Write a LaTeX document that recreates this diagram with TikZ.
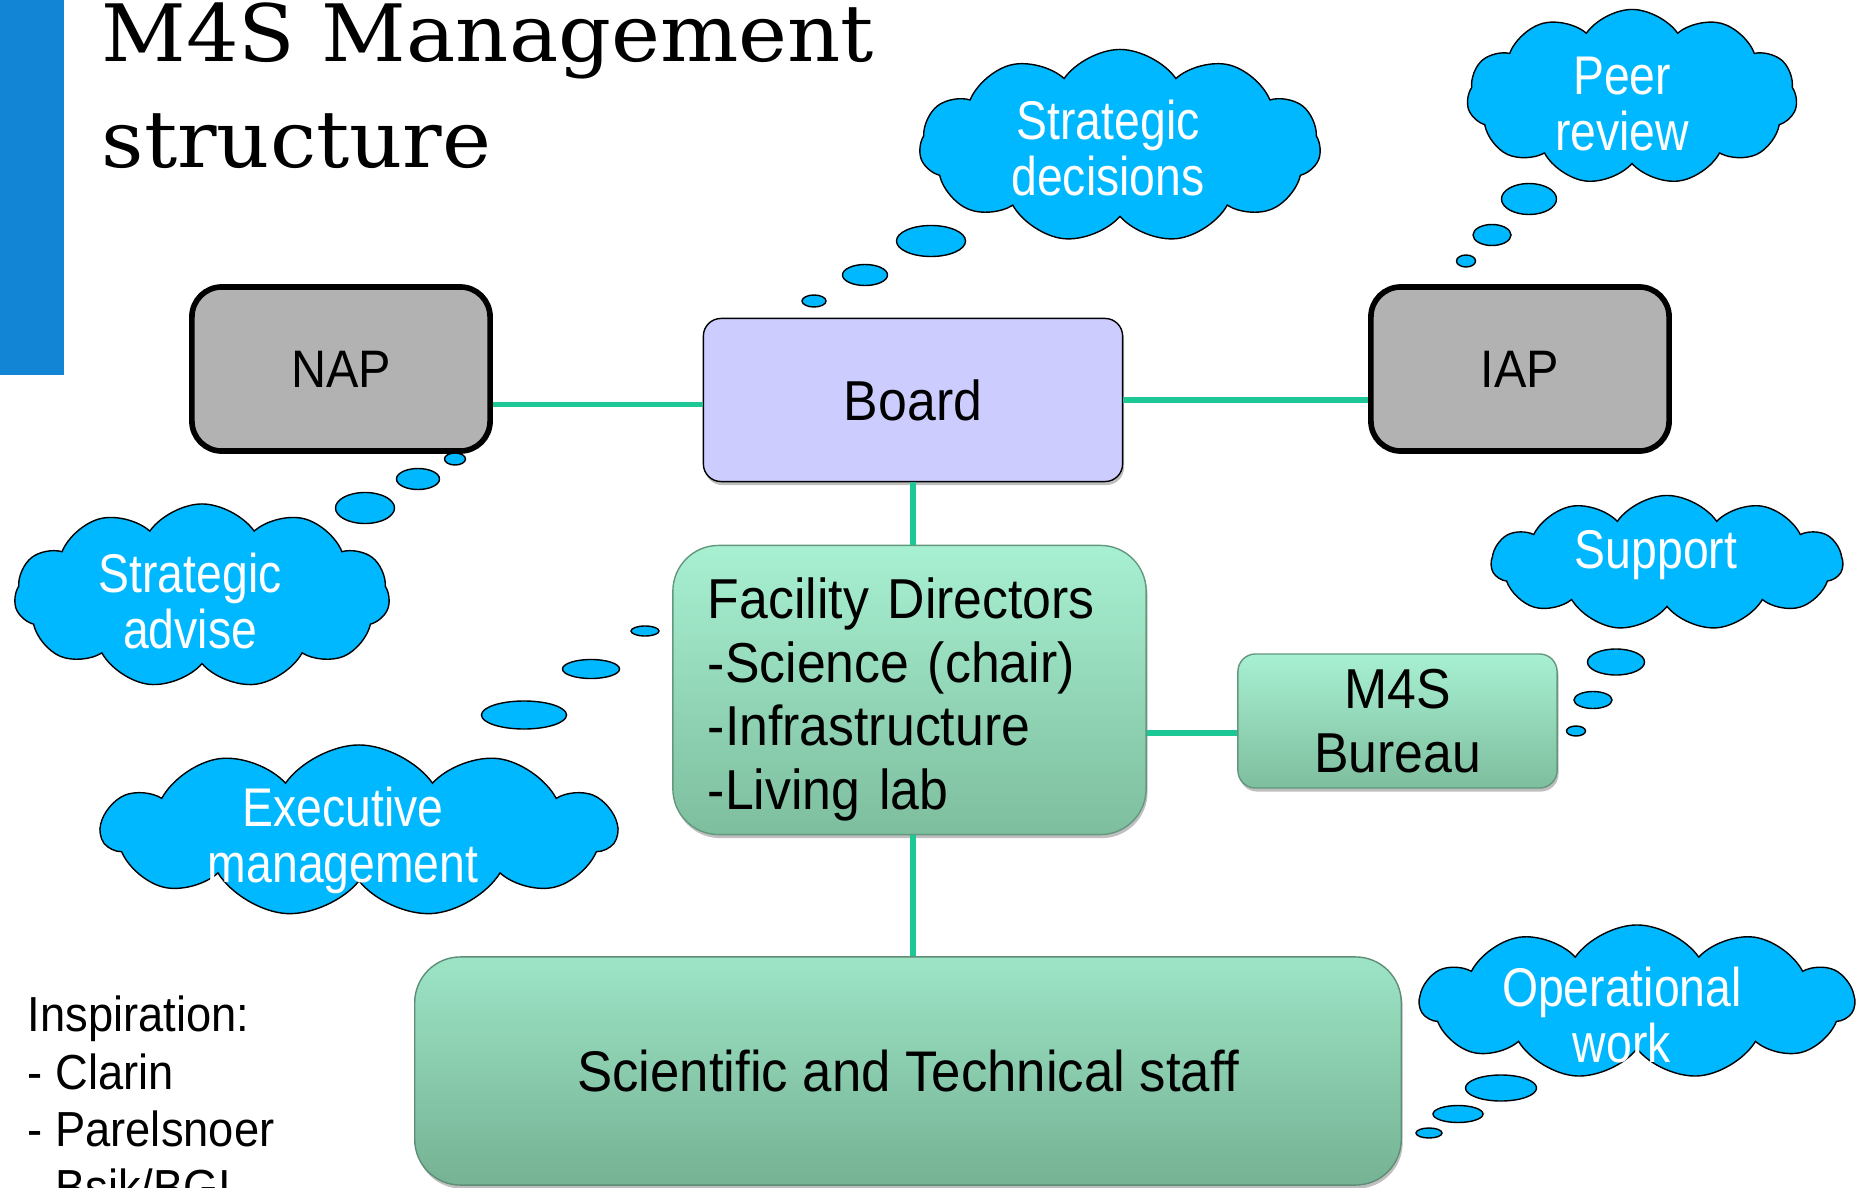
\documentclass[tikz,border=0pt]{standalone}
\usepackage{fontspec}
\setmainfont{Liberation Sans}[FakeStretch=0.92]
\newfontfamily\titlefont{DejaVu Serif}[FakeStretch=1.045]
\newfontfamily\cloudfont{Liberation Sans}[FakeStretch=0.85]
\usetikzlibrary{shapes.symbols,shapes.geometric,shadows}
\definecolor{barblue}{RGB}{18,133,212}
\definecolor{cloudblue}{RGB}{0,184,255}
\definecolor{panelgray}{RGB}{178,178,178}
\definecolor{boardblue}{RGB}{204,204,255}
\definecolor{greentop}{RGB}{168,240,210}
\definecolor{greenbot}{RGB}{125,190,158}
\definecolor{stafftop}{RGB}{157,228,198}
\definecolor{staffbot}{RGB}{118,178,148}
\definecolor{linkteal}{RGB}{30,200,150}
\tikzset{
    title/.style={font=\titlefont\fontsize{22.5}{30}\selectfont, inner sep=0pt},
    % Box styles
    softshadow/.style={drop shadow={shadow xshift=0.4pt, shadow yshift=-1pt, fill=black, opacity=0.25}},
    panel/.style={rectangle, draw, line width=1.6pt, rounded corners=8.5pt, fill=panelgray, minimum width=2.98cm, minimum height=1.64cm, font=\fontsize{15}{18}\selectfont},
    board/.style={rectangle, draw, thin, rounded corners=5pt, fill=boardblue, softshadow, font=\fontsize{16}{18}\selectfont},
    greenbox/.style={rectangle, draw=greenbot!80!black, thin, top color=greentop, bottom color=greenbot, softshadow, font=\fontsize{16}{18.1}\selectfont, align=center},
    staffbox/.style={rectangle, draw=staffbot!80!black, thin, rounded corners=13pt, top color=stafftop, bottom color=staffbot, softshadow, font=\fontsize{16.3}{18}\selectfont},
    link/.style={line width=1.5pt, linkteal},
    % Thought cloud styles
    thought/.style={cloud, cloud puffs=11, cloud puff arc=110, cloud ignores aspect, draw, thin, fill=cloudblue, inner sep=0pt},
    cloudtext/.style={text=white, align=center, inner sep=0pt, font=\cloudfont\fontsize{15.5}{16}\selectfont},
    bubble/.style={ellipse, draw, thin, fill=cloudblue, inner sep=0pt}
}
\begin{document}
\begin{tikzpicture}[x=0.01cm, y=-0.01cm]
    \useasboundingbox (0,0) rectangle (1860,1188);
    \clip (0,0) rectangle (1860,1188);

    % Side bar and title
    \fill[barblue] (0,0) rectangle (64,375);
    \node[title, anchor=base west] (title1) at (101,62) {M4S Management};
    \node[title, anchor=base west] (title2) at (101,168) {structure};

    % Advisory panels and board
    \node[panel] (nap) at (341,369) {NAP};
    \node[panel] (iap) at (1520,369) {IAP};
    \node[board, minimum width=4.19cm, minimum height=1.63cm] (board) at (913,400) {Board};

    % Directors, bureau and staff
    \node[greenbox, rounded corners=13pt, minimum width=4.73cm, minimum height=2.89cm, text width=4.03cm, align=left] (facility) at (909.5,690) {\rule{0pt}{17pt}Facility Directors\\-Science (chair)\\-Infrastructure\\-Living lab};
    \node[greenbox, rounded corners=5pt, minimum width=3.19cm, minimum height=1.34cm] (bureau) at (1397.5,721) {M4S\\Bureau};
    \node[staffbox, minimum width=9.86cm, minimum height=2.28cm] (staff) at (908,1071) {Scientific and Technical staff};

    % Connections
    \draw[link] ([yshift=-1.3pt]board.west) -- ([yshift=-1.3pt]board.west -| nap.east);
    \draw[link] (board.east) -- (board.east -| iap.west);
    \draw[link] (board.south) -- (board.south |- facility.north);
    \draw[link] ([yshift=-3.4pt]bureau.west) -- ([yshift=-3.4pt]bureau.west -| facility.east);
    \draw[link] (facility.south -| board.south) -- (staff.north -| board.south);

    % Thought clouds with their bubbles
    \node[thought, minimum width=4.01cm, minimum height=1.93cm, label={[cloudtext, xshift=-3.4pt, yshift=-0.6pt]center:Strategic\\decisions}] (decisions) at (1120,146) {};
    \node[bubble, minimum width=0.69cm, minimum height=0.31cm] (dec1) at (931,241) {};
    \node[bubble, minimum width=0.45cm, minimum height=0.21cm] (dec2) at (865,275) {};
    \node[bubble, minimum width=0.24cm, minimum height=0.12cm] (dec3) at (814,301) {};

    \node[thought, minimum width=3.30cm, minimum height=1.75cm, label={[cloudtext, xshift=-2.8pt, yshift=-2pt]center:Peer\\review}] (review) at (1632,97) {};
    \node[bubble, minimum width=0.55cm, minimum height=0.31cm] (rev1) at (1529,199) {};
    \node[bubble, minimum width=0.38cm, minimum height=0.21cm] (rev2) at (1492,235) {};
    \node[bubble, minimum width=0.19cm, minimum height=0.12cm] (rev3) at (1466,261) {};

    \node[thought, minimum width=3.75cm, minimum height=1.84cm, label={[cloudtext, xshift=-3.4pt, yshift=-1.4pt]center:Strategic\\advise}] (advise) at (202,596) {};
    \node[bubble, minimum width=0.59cm, minimum height=0.31cm] (adv1) at (365,508) {};
    \node[bubble, minimum width=0.43cm, minimum height=0.21cm] (adv2) at (418,479) {};
    \node[bubble, minimum width=0.21cm, minimum height=0.12cm] (adv3) at (455,459) {};

    \node[thought, minimum width=3.51cm, minimum height=1.35cm, label={[cloudtext, xshift=-3.1pt, yshift=2.3pt]center:Support}] (support) at (1667,563) {};
    \node[bubble, minimum width=0.57cm, minimum height=0.26cm] (sup1) at (1616,662) {};
    \node[bubble, minimum width=0.38cm, minimum height=0.17cm] (sup2) at (1593,700) {};
    \node[bubble, minimum width=0.19cm, minimum height=0.10cm] (sup3) at (1576,731) {};

    \node[thought, minimum width=5.15cm, minimum height=1.72cm, label={[cloudtext, xshift=-4.5pt, yshift=-2.6pt]center:Executive\\management}] (executive) at (359,831) {};
    \node[bubble, minimum width=0.85cm, minimum height=0.28cm] (exe1) at (524,715) {};
    \node[bubble, minimum width=0.57cm, minimum height=0.19cm] (exe2) at (591,669) {};
    \node[bubble, minimum width=0.28cm, minimum height=0.10cm] (exe3) at (645,631) {};

    \node[thought, minimum width=4.34cm, minimum height=1.54cm, label={[cloudtext, xshift=-4.3pt, yshift=-3.7pt]center:Operational\\work}] (operational) at (1637,1002) {};
    \node[bubble, minimum width=0.71cm, minimum height=0.26cm] (ope1) at (1501,1088) {};
    \node[bubble, minimum width=0.50cm, minimum height=0.17cm] (ope2) at (1458,1114) {};
    \node[bubble, minimum width=0.26cm, minimum height=0.10cm] (ope3) at (1429,1133) {};

    % Inspiration list
    \node[anchor=north west, align=left, inner sep=0pt, font=\fontsize{14}{16.4}\selectfont] (inspiration) at (27,995) {Inspiration:\\- Clarin\\- Parelsnoer\\- Bsik/BGI};
\end{tikzpicture}
\end{document}
